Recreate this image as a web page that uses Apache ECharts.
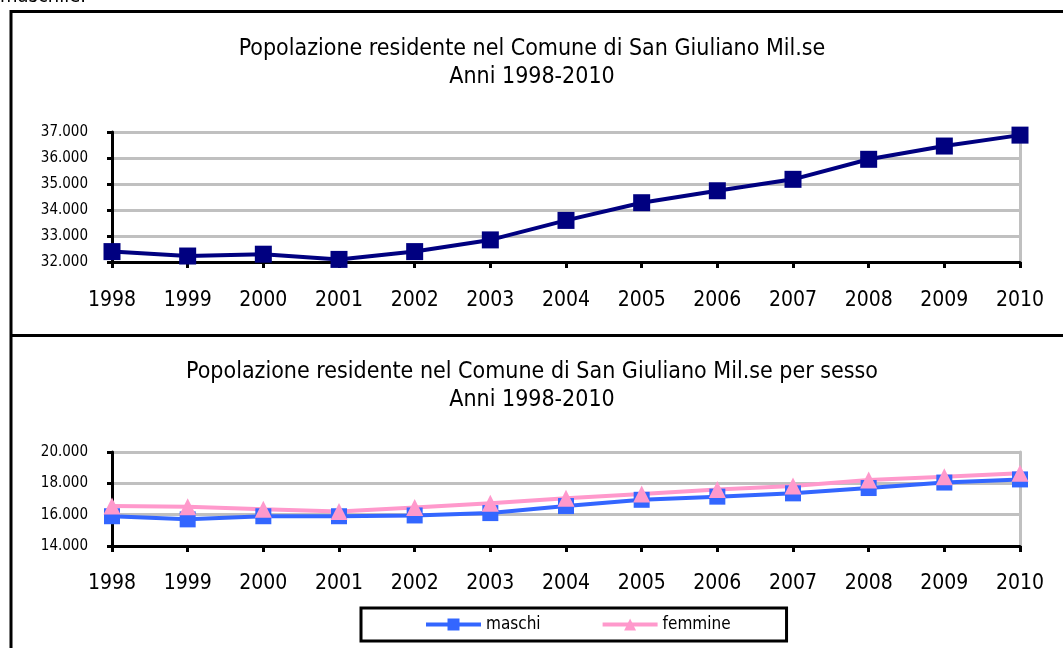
<!DOCTYPE html>
<html>
<head>
<meta charset="utf-8">
<title>Popolazione residente San Giuliano Mil.se</title>
<script src="https://cdn.jsdelivr.net/npm/echarts@6/dist/echarts.min.js"></script>
<style>
  html, body { margin: 0; padding: 0; background: #fff; }
  #chart { width: 1063px; height: 648px; }
</style>
</head>
<body>
<div id="chart"></div>
<script>
// dati
var anni = ['1998', '1999', '2000', '2001', '2002', '2003', '2004', '2005', '2006', '2007', '2008', '2009', '2010']
var totale = [32400, 32230, 32300, 32100, 32400, 32850, 33600, 34280, 34740, 35180, 35950, 36460, 36880]
var maschi = [15900, 15700, 15900, 15900, 15950, 16100, 16550, 16950, 17150, 17360, 17700, 18050, 18250]
var femmine = [16550, 16510, 16340, 16200, 16450, 16730, 17050, 17320, 17600, 17830, 18220, 18420, 18640]

var FONT = '"DejaVu Sans Condensed", "DejaVu Sans", sans-serif'
var GRID_GRAY = '#c0c0c0'

// 37000 -> "37.000"
function migliaia(v) {
  return String(v).replace(/\B(?=(\d{3})+(?!\d))/g, '.')
}

function asseX(gridIndex, margin) {
  return {
    type: 'category',
    gridIndex: gridIndex,
    data: anni,
    boundaryGap: false, // punti sugli assi
    axisLine: { lineStyle: { color: '#000', width: 3 } },
    axisTick: { show: true, length: 6, lineStyle: { color: '#000', width: 3 } },
    axisLabel: { color: '#000', fontFamily: FONT, fontSize: 21, margin: margin },
    splitLine: { show: false }
  }
}

function asseY(gridIndex, min, max, interval) {
  return {
    type: 'value',
    gridIndex: gridIndex,
    min: min,
    max: max,
    interval: interval,
    axisLine: { show: true, lineStyle: { color: '#000', width: 3 } },
    axisTick: { show: true, length: 5, lineStyle: { color: '#000', width: 3 } },
    axisLabel: { color: '#000', fontFamily: FONT, fontSize: 15, margin: 24, formatter: migliaia },
    splitLine: { show: true, lineStyle: { color: GRID_GRAY, width: 3 } }
  }
}

// bordo destro grigio dell'area del grafico
function bordoDestro(gridIndex, min, max) {
  return {
    type: 'value',
    gridIndex: gridIndex,
    position: 'right',
    min: min,
    max: max,
    axisLine: { show: true, lineStyle: { color: GRID_GRAY, width: 3 } },
    axisTick: { show: false },
    axisLabel: { show: false },
    splitLine: { show: false }
  }
}

var stileTitolo = { color: '#000', fontFamily: FONT, fontSize: 23, fontWeight: 'normal', lineHeight: 28 }

var chart = echarts.init(document.getElementById('chart'))

chart.setOption({
  animation: false,
  backgroundColor: '#fff',
  textStyle: { fontFamily: FONT },
  title: [
    {
      text: 'Popolazione residente nel Comune di San Giuliano Mil.se\nAnni 1998-2010',
      left: 532,
      top: 35,
      padding: 0,
      textAlign: 'center',
      textStyle: stileTitolo
    },
    {
      text: 'Popolazione residente nel Comune di San Giuliano Mil.se per sesso\nAnni 1998-2010',
      left: 532,
      top: 358,
      padding: 0,
      textAlign: 'center',
      textStyle: stileTitolo
    }
  ],
  legend: {
    data: ['maschi', 'femmine'],
    left: 361,
    top: 608,
    orient: 'horizontal',
    borderColor: '#000',
    borderWidth: 3,
    borderRadius: 0,
    padding: [8, 56, 8, 63],
    itemWidth: 55,
    itemHeight: 15,
    itemGap: 60,
    lineStyle: { width: 4 },
    textStyle: { color: '#000', fontFamily: FONT, fontSize: 17 }
  },
  grid: [
    { left: 112, right: 43, top: 132, bottom: 386 },
    { left: 112, right: 43, top: 452, bottom: 102 }
  ],
  xAxis: [asseX(0, 28), asseX(1, 27)],
  yAxis: [
    asseY(0, 32000, 37000, 1000),
    asseY(1, 14000, 20000, 2000),
    bordoDestro(0, 32000, 37000),
    bordoDestro(1, 14000, 20000)
  ],
  series: [
    {
      name: 'totale',
      type: 'line',
      xAxisIndex: 0,
      yAxisIndex: 0,
      data: totale,
      symbol: 'rect',
      symbolSize: 17,
      itemStyle: { color: '#000080' },
      lineStyle: { color: '#000080', width: 4 }
    },
    {
      name: 'maschi',
      type: 'line',
      xAxisIndex: 1,
      yAxisIndex: 1,
      data: maschi,
      symbol: 'rect',
      symbolSize: 16,
      itemStyle: { color: '#3366ff' },
      lineStyle: { color: '#3366ff', width: 4 }
    },
    {
      name: 'femmine',
      type: 'line',
      xAxisIndex: 1,
      yAxisIndex: 1,
      data: femmine,
      symbol: 'triangle',
      symbolSize: 17,
      itemStyle: { color: '#ff99cc' },
      lineStyle: { color: '#ff99cc', width: 4 }
    }
  ],
  graphic: [
    // testo tagliato in alto (si vede solo la parte bassa)
    {
      type: 'text',
      x: 0,
      y: 7,
      z: 10,
      style: { text: 'maschile.', fill: '#000', font: '20px ' + FONT, verticalAlign: 'bottom' }
    },
    // cornici dei due grafici
    { type: 'line', shape: { x1: 11, y1: 10, x2: 11, y2: 648 }, style: { stroke: '#000', lineWidth: 3 } },
    { type: 'line', shape: { x1: 10, y1: 11.5, x2: 1063, y2: 11.5 }, style: { stroke: '#000', lineWidth: 3 } },
    { type: 'line', shape: { x1: 10, y1: 335.5, x2: 1063, y2: 335.5 }, style: { stroke: '#000', lineWidth: 3 } }
  ]
})
</script>
</body>
</html>
